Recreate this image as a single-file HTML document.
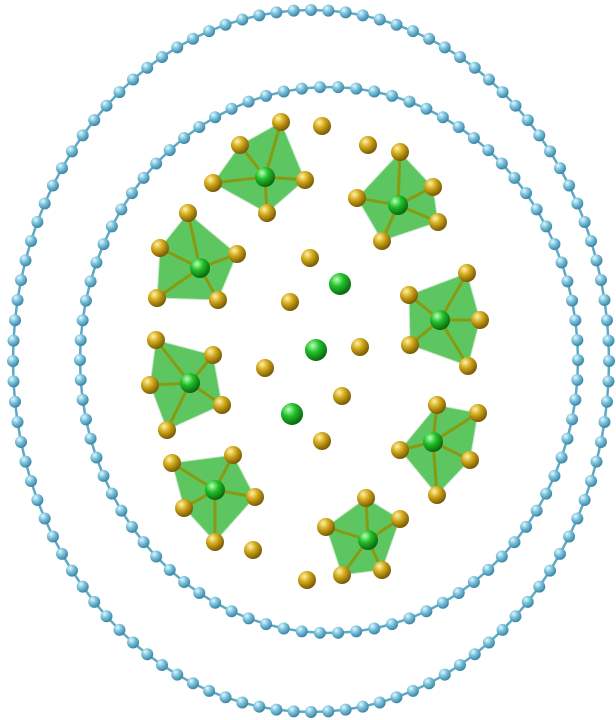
<!DOCTYPE html>
<html><head><meta charset="utf-8"><style>
html,body{margin:0;padding:0;background:#fff;width:616px;height:720px;overflow:hidden}
svg{display:block}
</style></head><body>
<svg id="s" width="616" height="720" viewBox="0 0 616 720">
<defs>
<radialGradient id="gb" cx="35%" cy="30%" r="70%"><stop offset="0" stop-color="#e6f6fc"/><stop offset="0.45" stop-color="#7cc4de"/><stop offset="1" stop-color="#3d86a3"/></radialGradient>
<radialGradient id="gg" cx="35%" cy="30%" r="70%"><stop offset="0" stop-color="#fff3a8"/><stop offset="0.45" stop-color="#d2a81a"/><stop offset="1" stop-color="#7a5c05"/></radialGradient>
<radialGradient id="gr" cx="35%" cy="30%" r="70%"><stop offset="0" stop-color="#b8ffb8"/><stop offset="0.45" stop-color="#22c02a"/><stop offset="1" stop-color="#0a6a10"/></radialGradient>
</defs>
</svg>
<script>
const ns='http://www.w3.org/2000/svg';
const svg=document.getElementById('s');
const rings=[[311,361,298,351,108],[329,360,249,273,86]];
const clusters=[
 [265,177,[[240,145],[281,122],[305,180],[267,213],[213,183]]],
 [398,205,[[400,152],[433,187],[438,222],[382,241],[357,198]]],
 [200,268,[[188,213],[237,254],[218,300],[157,298],[160,248]]],
 [440,320,[[409,295],[467,273],[480,320],[468,366],[410,345]]],
 [190,383,[[156,340],[213,355],[222,405],[167,430],[150,385]]],
 [433,442,[[400,450],[437,405],[478,413],[470,460],[437,495]]],
 [215,490,[[172,463],[233,455],[255,497],[215,542],[184,508]]],
 [368,540,[[326,527],[366,498],[400,519],[382,570],[342,575]]]];
const freeGold=[[322,126],[368,145],[310,258],[290,302],[360,347],[265,368],[342,396],[322,441],[253,550],[307,580]];
const freeGreen=[[340,284],[316,350],[292,414]];
function mk(t,a){const e=document.createElementNS(ns,t);for(const k in a)e.setAttribute(k,a[k]);svg.appendChild(e);return e;}
rings.forEach((r,ri)=>{
 const [cx,cy,rx,ry,n]=r;const pts=[];
 for(let i=0;i<n;i++){const a=i/n*2*Math.PI;pts.push([cx+rx*Math.cos(a),cy+ry*Math.sin(a)]);}
 const pl=mk('polygon',{points:pts.map(p=>p.join(',')).join(' '),fill:'none',stroke:'#5fa9c6','stroke-width':2.5});
 
 
 pts.forEach(p=>{const c=mk('circle',{cx:p[0],cy:p[1],r:6,fill:'url(#gb)'});
  
  });
});
clusters.forEach((c,ci)=>{
 const [x,y,v]=c;
 const g=mk('polygon',{points:v.map(p=>p.join(',')).join(' '),fill:'#35b83a','fill-opacity':0.8,stroke:'#c8e8c8','stroke-width':1});
 
 
 v.forEach(p=>{const l=mk('line',{x1:x,y1:y,x2:p[0],y2:p[1],stroke:'#8a9a10','stroke-width':3});
  
  });
 const ce=mk('circle',{cx:x,cy:y,r:10,fill:'url(#gr)'});
 
 
 v.forEach(p=>{const a=mk('circle',{cx:p[0],cy:p[1],r:9,fill:'url(#gg)'});
  
  });
});
freeGold.forEach(p=>{const a=mk('circle',{cx:p[0],cy:p[1],r:9,fill:'url(#gg)'});
 
 });
freeGreen.forEach(p=>{const a=mk('circle',{cx:p[0],cy:p[1],r:11,fill:'url(#gr)'});
 
 });
</script>
</body></html>
